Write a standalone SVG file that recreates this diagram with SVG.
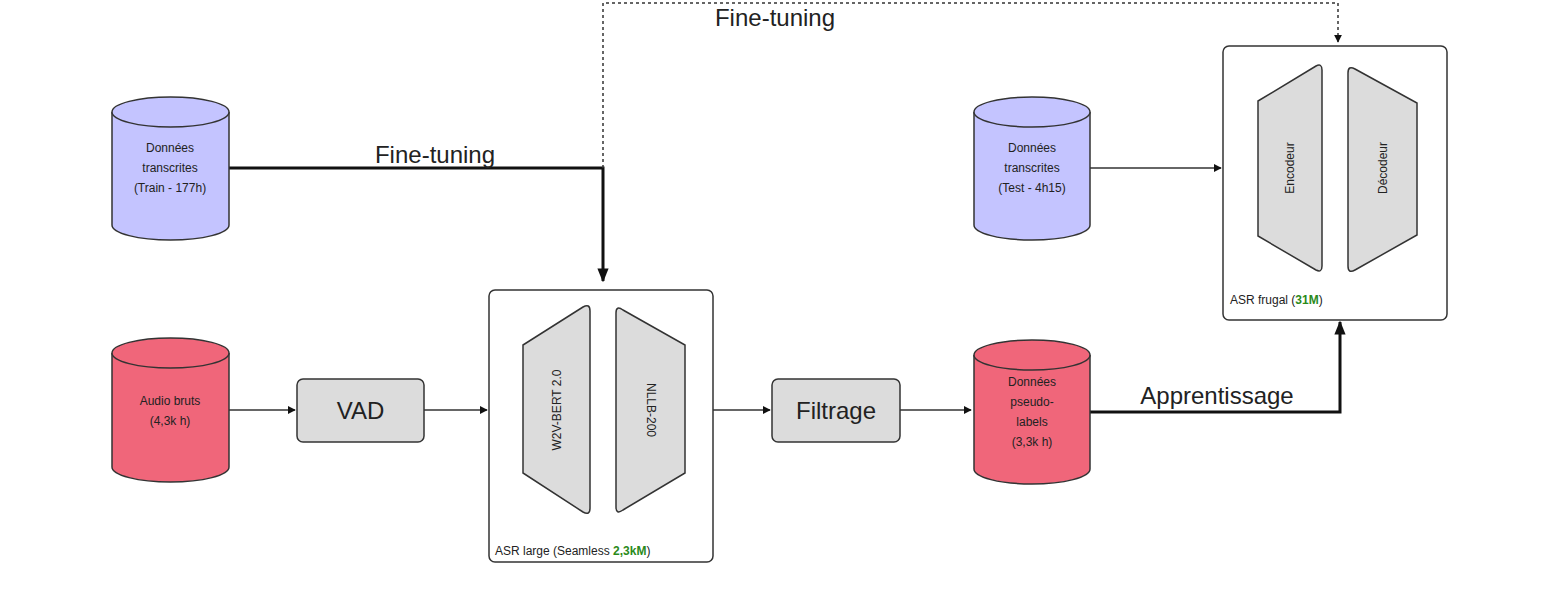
<svg xmlns="http://www.w3.org/2000/svg" width="1563" height="594" viewBox="0 0 1563 594">
<style>
text{font-family:"Liberation Sans",Arial,sans-serif;fill:#222}
.cb{fill:#c4c4ff;stroke:#333;stroke-width:1.5}
.cr{fill:#f0667a;stroke:#333;stroke-width:1.5}
.box{fill:#dcdcdc;stroke:#333;stroke-width:1.5}
.cont{fill:#fff;stroke:#333;stroke-width:1.5}
.s{font-size:12px}
.m{font-size:24px}
.ln{fill:none;stroke:#333;stroke-width:1.5}
.th{fill:none;stroke:#111;stroke-width:3}
.g{fill:#2a8a1a;font-weight:bold}
</style>
<defs>
<marker id="a" viewBox="0 0 10 10" refX="9" refY="5" markerWidth="8" markerHeight="8" orient="auto" markerUnits="userSpaceOnUse"><path d="M0,0L10,5L0,10z" fill="#111"/></marker>
<marker id="b" viewBox="0 0 10 10" refX="9" refY="5" markerWidth="14" markerHeight="14" orient="auto" markerUnits="userSpaceOnUse"><path d="M0,1L10,5L0,9z" fill="#111"/></marker>
</defs>
<g id="connectors">
<path class="ln" d="M229,410H295" marker-end="url(#a)"/>
<path class="ln" d="M424,410H487" marker-end="url(#a)"/>
<path class="ln" d="M713,410H770" marker-end="url(#a)"/>
<path class="ln" d="M900,410H971" marker-end="url(#a)"/>
<path class="ln" d="M1090,168H1221" marker-end="url(#a)"/>
<path class="th" d="M229,168H603V281" marker-end="url(#b)"/>
<path class="ln" d="M603,168V3H1338V42" stroke-dasharray="3,3" marker-end="url(#a)"/>
<path class="th" d="M1090,412H1340V322" marker-end="url(#b)"/>
<text class="m" x="435" y="163" text-anchor="middle">Fine-tuning</text>
<text class="m" x="775" y="26" text-anchor="middle">Fine-tuning</text>
<text class="m" x="1217" y="404" text-anchor="middle">Apprentissage</text>
</g>
<g id="train">
<path class="cb" d="M112,112V225A58.5,15 0 0 0 229,225V112"/>
<ellipse class="cb" cx="170.5" cy="112" rx="58.5" ry="15"/>
<text class="s" x="170" y="152" text-anchor="middle">Données</text>
<text class="s" x="170" y="172" text-anchor="middle">transcrites</text>
<text class="s" x="170" y="192" text-anchor="middle">(Train - 177h)</text>
</g>
<g id="test">
<path class="cb" d="M974,112V225A58,15 0 0 0 1090,225V112"/>
<ellipse class="cb" cx="1032" cy="112" rx="58" ry="15"/>
<text class="s" x="1032" y="152" text-anchor="middle">Données</text>
<text class="s" x="1032" y="172" text-anchor="middle">transcrites</text>
<text class="s" x="1032" y="192" text-anchor="middle">(Test - 4h15)</text>
</g>
<g id="audio">
<path class="cr" d="M112,353V467A58.5,15 0 0 0 229,467V353"/>
<ellipse class="cr" cx="170.5" cy="353" rx="58.5" ry="15"/>
<text class="s" x="170" y="405" text-anchor="middle">Audio bruts</text>
<text class="s" x="170" y="425" text-anchor="middle">(4,3k h)</text>
</g>
<g id="pseudo">
<path class="cr" d="M974,355V469A58,15 0 0 0 1090,469V355"/>
<ellipse class="cr" cx="1032" cy="355" rx="58" ry="15"/>
<text class="s" x="1032" y="386" text-anchor="middle">Données</text>
<text class="s" x="1032" y="406" text-anchor="middle">pseudo-</text>
<text class="s" x="1032" y="426" text-anchor="middle">labels</text>
<text class="s" x="1032" y="446" text-anchor="middle">(3,3k h)</text>
</g>
<g id="vad">
<rect class="box" x="297" y="379" width="127" height="63" rx="6"/>
<text class="m" x="360.5" y="419" text-anchor="middle">VAD</text>
</g>
<g id="filtrage">
<rect class="box" x="772" y="379" width="128" height="63" rx="6"/>
<text class="m" x="836" y="419" text-anchor="middle">Filtrage</text>
</g>
<g id="asr-large">
<rect class="cont" x="489" y="290" width="224" height="272" rx="6"/>
<path class="box" d="M523,345L583,307Q590,303 590,311V508Q590,516 583,512L523,473Z"/>
<path class="box" d="M616,313Q616,305 623,310L685,345V473L623,510Q616,515 616,507Z"/>
<text class="s" transform="translate(561,410) rotate(-90)" text-anchor="middle">W2V-BERT 2.0</text>
<text class="s" transform="translate(647,410) rotate(90)" text-anchor="middle">NLLB-200</text>
<text class="s" x="495" y="555">ASR large (Seamless <tspan class="g">2,3kM</tspan>)</text>
</g>
<g id="asr-frugal">
<rect class="cont" x="1223" y="46" width="224" height="274" rx="6"/>
<path class="box" d="M1258,101L1316,66Q1322,63 1322,70V266Q1322,273 1316,270L1258,236Z"/>
<path class="box" d="M1348,73Q1348,65 1355,69L1417,103V235L1355,270Q1348,274 1348,266Z"/>
<text class="s" transform="translate(1294,168) rotate(-90)" text-anchor="middle">Encodeur</text>
<text class="s" transform="translate(1387,168) rotate(-90)" text-anchor="middle">Décodeur</text>
<text class="s" x="1230" y="304">ASR frugal (<tspan class="g">31M</tspan>)</text>
</g>
</svg>
